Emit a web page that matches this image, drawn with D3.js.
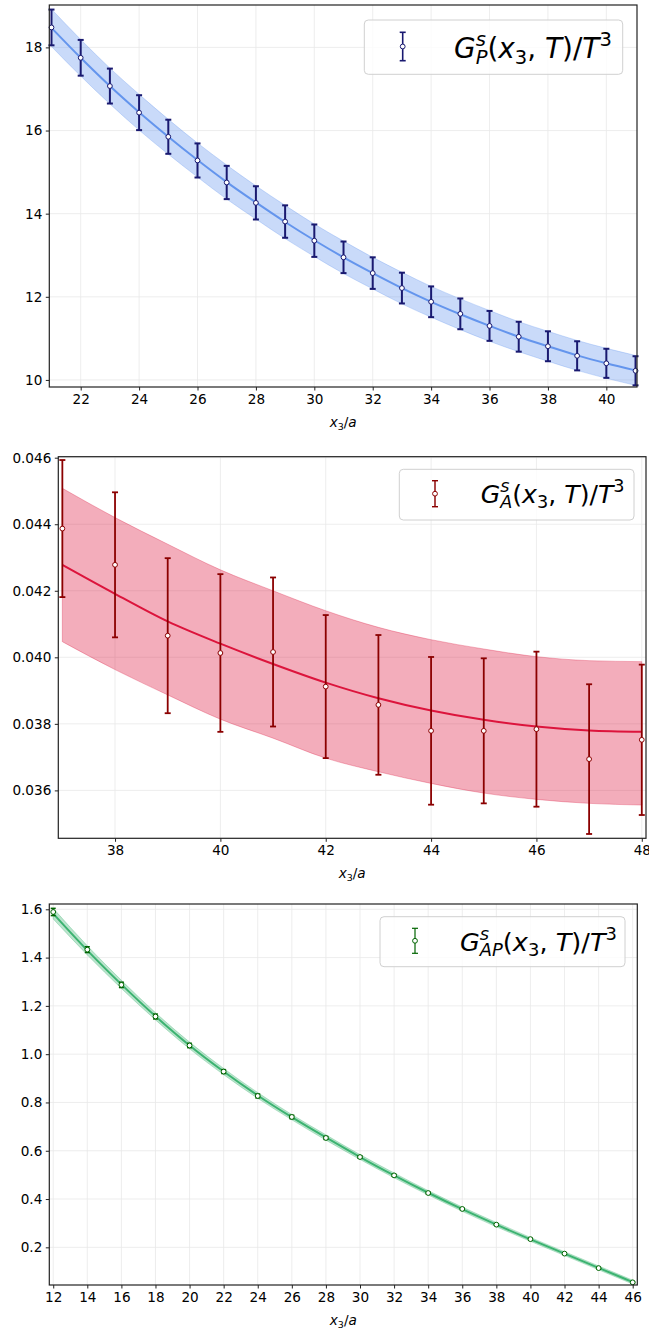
<!DOCTYPE html>
<html><head><meta charset="utf-8">
<script src="https://cdn.jsdelivr.net/npm/d3@7"></script>
<style>body{margin:0;background:#fff}svg{display:block}</style>
</head><body>
<svg id="c" width="649" height="1332"></svg>
<script>
// ---------- DATA ----------
const p1X = [21,22,23,24,25,26,27,28,29,30,31,32,33,34,35,36,37,38,39,40,41];
const p1Y = [18.48,17.75,17.07,16.43,15.85,15.28,14.75,14.26,13.81,13.35,12.95,12.57,12.21,11.88,11.59,11.30,11.04,10.81,10.58,10.40,10.22];
const p1Err = [0.43,0.43,0.42,0.42,0.41,0.41,0.40,0.40,0.39,0.39,0.38,0.38,0.37,0.37,0.37,0.36,0.36,0.36,0.35,0.35,0.35];
const p1Fit = [18.47,17.75,17.07,16.44,15.85,15.29,14.76,14.27,13.80,13.36,12.95,12.57,12.21,11.88,11.58,11.30,11.04,10.81,10.59,10.40,10.23];
const p1FitErr = [0.45,0.44,0.43,0.43,0.42,0.41,0.41,0.40,0.40,0.39,0.39,0.38,0.38,0.37,0.37,0.37,0.36,0.36,0.36,0.36,0.36];
const p1XTicks = [22,24,26,28,30,32,34,36,38,40];
const p1YTicks = [10,12,14,16,18];

const p2X = [37,38,39,40,41,42,43,44,45,46,47,48];
const p2Y = [0.04387,0.04278,0.04065,0.04013,0.04016,0.03912,0.03857,0.03779,0.03779,0.03784,0.03694,0.03752];
const p2Err = [0.00206,0.00218,0.00233,0.00237,0.00224,0.00215,0.00210,0.00222,0.00218,0.00233,0.00225,0.00226];
const p2Fit = [0.04278,0.04191,0.04108,0.04041,0.03980,0.03924,0.03877,0.03840,0.03812,0.03792,0.03780,0.03776];
const p2FitUp = [0.04508,0.04420,0.04340,0.04263,0.04200,0.04140,0.04090,0.04053,0.04025,0.04002,0.03990,0.03987];
const p2FitLo = [0.04047,0.03963,0.03887,0.03814,0.03757,0.03697,0.03656,0.03621,0.03592,0.03573,0.03561,0.03556];
const p2XTicks = [38,40,42,44,46,48];
const p2YTicks = [0.036,0.038,0.040,0.042,0.044,0.046];

const p3X = [12,14,16,18,20,22,24,26,28,30,32,34,36,38,40,42,44,46];
const p3Y = [1.589,1.433,1.287,1.156,1.036,0.928,0.827,0.740,0.653,0.574,0.498,0.425,0.359,0.294,0.234,0.174,0.114,0.055];
const p3Err = [0.015,0.012,0.011,0.010,0.009,0.008,0.008,0.007,0.006,0.005,0.004,0.004,0.003,0.003,0.003,0.002,0.002,0.002];
const p3Fit = [1.582,1.430,1.289,1.157,1.036,0.928,0.829,0.739,0.655,0.574,0.498,0.426,0.358,0.294,0.233,0.174,0.115,0.056];
const p3FitErr = [0.022,0.019,0.017,0.015,0.014,0.013,0.012,0.011,0.011,0.010,0.010,0.009,0.009,0.009,0.008,0.008,0.008,0.008];
const p3XTicks = [12,14,16,18,20,22,24,26,28,30,32,34,36,38,40,42,44,46];
const p3YTicks = [0.2,0.4,0.6,0.8,1.0,1.2,1.4,1.6];

const xLabel = "x_3/a";
// ---------- DRAW ----------
const svg = d3.select("#c");
const FONT = "DejaVu Sans";

function mathText(g, x, y, size, parts) {
  // single <text>, each piece a tspan with absolute x/y
  const t = g.append("text").style("font-family", FONT).style("font-size", size + "px")
    .attr("fill", "#000").attr("xml:space", "preserve");
  let cx = x;
  const add = (q, xx) => {
    const s = t.append("tspan").attr("x", xx).attr("y", y + (q.dy || 0) * size)
      .style("font-size", (q.sc || 1) * size + "px")
      .style("font-style", q.it ? "oblique" : "normal").text(q.t);
    return s.node().getComputedTextLength();
  };
  for (const p of parts) {
    if (p.stack) cx += d3.max(p.stack.map(q => add(q, cx)));
    else cx += add(p, cx);
  }
  return cx - x;
}
function legendParts(sub) {
  return [
    {t:"G", it:true},
    {stack:[{t:"s", it:true, sc:0.7, dy:-0.42},{t:sub, it:true, sc:0.7, dy:0.2}]},
    {t:"("},{t:"x", it:true},{t:"3", sc:0.7, dy:0.2},{t:", "},{t:"T", it:true},{t:")/"},{t:"T", it:true},{t:"3", sc:0.7, dy:-0.42}
  ];
}
function fitText(g, x, y, targetW, parts) {
  const tmp = g.append("g");
  const w = mathText(tmp, x, y, 20, parts);
  tmp.remove();
  mathText(g, x, y, 20 * targetW / w, parts);
}

function panel(cfg) {
  const x = d3.scaleLinear().domain(cfg.xd).range([cfg.l, cfg.r]);
  const y = d3.scaleLinear().domain(cfg.yd).range([cfg.b, cfg.t]);
  const g = svg.append("g");
  const cid = "clip" + cfg.id;
  svg.append("defs").append("clipPath").attr("id", cid).append("rect")
    .attr("x", cfg.l).attr("y", cfg.t).attr("width", cfg.r - cfg.l).attr("height", cfg.b - cfg.t);
  // grid
  g.append("g").selectAll("line").data(cfg.xt).join("line")
    .attr("x1", d => x(d)).attr("x2", d => x(d)).attr("y1", cfg.t).attr("y2", cfg.b)
    .attr("stroke", "#e8e8e8").attr("stroke-width", 0.8);
  g.append("g").selectAll("line").data(cfg.yt).join("line")
    .attr("y1", d => y(d)).attr("y2", d => y(d)).attr("x1", cfg.l).attr("x2", cfg.r)
    .attr("stroke", "#e8e8e8").attr("stroke-width", 0.8);
  // band + fit
  const pg = g.append("g").attr("clip-path", `url(#${cid})`);
  const idx = d3.range(cfg.X.length);
  const curve = d3.curveMonotoneX;
  pg.append("path").datum(idx)
    .attr("d", d3.area().x(i => x(cfg.X[i])).y0(i => y(cfg.lo[i])).y1(i => y(cfg.up[i])).curve(curve))
    .attr("fill", cfg.fitColor).attr("fill-opacity", 0.35)
    .attr("stroke", cfg.fitColor).attr("stroke-opacity", 0.3).attr("stroke-width", 1);
  pg.append("path").datum(idx)
    .attr("d", d3.line().x(i => x(cfg.X[i])).y(i => y(cfg.fit[i])).curve(curve))
    .attr("fill", "none").attr("stroke", cfg.fitColor).attr("stroke-width", cfg.fitW);
  // error bars
  const eg = g.append("g");
  idx.forEach(i => {
    const xx = x(cfg.X[i]), y1 = y(cfg.Y[i] - cfg.E[i]), y2 = y(cfg.Y[i] + cfg.E[i]);
    eg.append("line").attr("x1", xx).attr("x2", xx).attr("y1", y1).attr("y2", y2)
      .attr("stroke", cfg.errColor).attr("stroke-width", cfg.errW);
    [y1, y2].forEach(yy => eg.append("line").attr("x1", xx - cfg.cap).attr("x2", xx + cfg.cap)
      .attr("y1", yy).attr("y2", yy).attr("stroke", cfg.errColor).attr("stroke-width", cfg.errW));
    eg.append("circle").attr("cx", xx).attr("cy", y(cfg.Y[i])).attr("r", 2.4)
      .attr("fill", "#fff").attr("stroke", cfg.errColor).attr("stroke-width", 1);
  });
  // axes
  const xa = g.append("g").attr("transform", `translate(0,${cfg.b})`)
    .call(d3.axisBottom(x).tickValues(cfg.xt).tickSize(3.5).tickPadding(3.5).tickFormat(cfg.xf || d3.format("d")));
  const ya = g.append("g").attr("transform", `translate(${cfg.l},0)`)
    .call(d3.axisLeft(y).tickValues(cfg.yt).tickSize(3.5).tickPadding(3.5).tickFormat(cfg.yf));
  [xa, ya].forEach(a => {
    a.select(".domain").remove();
    a.selectAll("text").style("font-family", FONT).style("font-size", "13.6px").attr("fill", "#000");
    a.selectAll("line").attr("stroke", "#222").attr("stroke-width", 1);
  });
  g.append("rect").attr("x", cfg.l).attr("y", cfg.t).attr("width", cfg.r - cfg.l).attr("height", cfg.b - cfg.t)
    .attr("fill", "none").attr("stroke", "#222").attr("stroke-width", 1.2);
  // x label
  const lx = (cfg.l + cfg.r) / 2;
  const lbl = g.append("text").attr("x", lx).attr("y", cfg.b + 40).attr("text-anchor", "middle")
    .style("font-family", FONT).style("font-size", "13.6px").attr("fill", "#000");
  lbl.append("tspan").style("font-style", "oblique").text(xLabel.split("_")[0]);
  lbl.append("tspan").attr("dy", 2.6).style("font-size", "9.5px").text("3");
  lbl.append("tspan").attr("dy", -2.6).text("/");
  lbl.append("tspan").style("font-style", "oblique").text("a");
  // legend
  const L = cfg.leg;
  g.append("rect").attr("x", L.x0).attr("y", L.y0).attr("width", L.x1 - L.x0).attr("height", L.y1 - L.y0)
    .attr("rx", 4).attr("fill", "#fff").attr("fill-opacity", 0.8).attr("stroke", "#d0d0d0").attr("stroke-width", 1);
  g.append("line").attr("x1", L.mx).attr("x2", L.mx).attr("y1", L.m0).attr("y2", L.m1)
    .attr("stroke", cfg.errColor).attr("stroke-width", cfg.errW * 0.8);
  [L.m0, L.m1].forEach(yy => g.append("line").attr("x1", L.mx - 3).attr("x2", L.mx + 3).attr("y1", yy).attr("y2", yy)
    .attr("stroke", cfg.errColor).attr("stroke-width", cfg.errW * 0.8));
  g.append("circle").attr("cx", L.mx).attr("cy", (L.m0 + L.m1) / 2).attr("r", 2.4)
    .attr("fill", "#fff").attr("stroke", cfg.errColor).attr("stroke-width", 1);
  fitText(g.append("g"), L.tx, L.ty, L.tw, legendParts(L.sub));
}

panel({id:1, l:49.3, r:637, t:5, b:387, xd:[20.925, 41.05], yd:[9.83, 19.02],
  X:p1X, Y:p1Y, E:p1Err, fit:p1Fit, up:p1Fit.map((v,i)=>v+p1FitErr[i]), lo:p1Fit.map((v,i)=>v-p1FitErr[i]),
  xt:p1XTicks, yt:p1YTicks, yf:d3.format("d"),
  fitColor:"#6495ed", fitW:2, errColor:"#191970", errW:2, cap:3,
  leg:{x0:364.3, x1:622.7, y0:20, y1:74.3, mx:402.7, m0:32.3, m1:60.7, tx:454, ty:58, tw:158, sub:"P"}});

panel({id:2, l:58.3, r:646, t:456.7, b:838.3, xd:[36.923, 48.08], yd:[0.03456, 0.04603],
  X:p2X, Y:p2Y, E:p2Err, fit:p2Fit, up:p2FitUp, lo:p2FitLo,
  xt:p2XTicks, yt:p2YTicks, yf:d3.format(".3f"),
  fitColor:"#dc143c", fitW:2, errColor:"#8b0000", errW:1.8, cap:3,
  leg:{x0:399.3, x1:634, y0:469.3, y1:520, mx:435, m0:480.7, m1:506.7, tx:480.7, ty:503, tw:144, sub:"A"}});

panel({id:3, l:49.3, r:637.3, t:904, b:1285, xd:[11.77, 46.27], yd:[0.044, 1.622],
  X:p3X, Y:p3Y, E:p3Err, fit:p3Fit, up:p3Fit.map((v,i)=>v+p3FitErr[i]), lo:p3Fit.map((v,i)=>v-p3FitErr[i]),
  xt:p3XTicks, yt:p3YTicks, yf:d3.format(".1f"),
  fitColor:"#3cb371", fitW:2, errColor:"#006400", errW:1.5, cap:2.5,
  leg:{x0:380, x1:625, y0:916.7, y1:966.7, mx:415, m0:928.3, m1:953.3, tx:460, ty:951, tw:157, sub:"AP"}});
</script>
</body></html>
